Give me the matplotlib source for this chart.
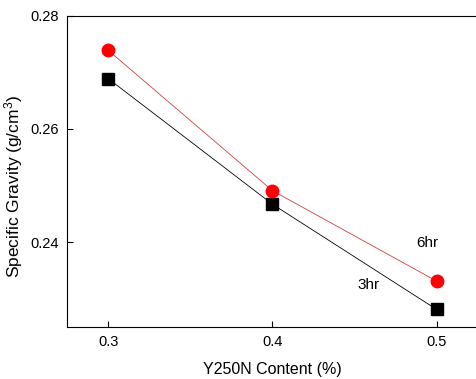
import matplotlib
matplotlib.use("Agg")
import matplotlib.pyplot as plt

content = [0.3, 0.4, 0.5]
sg_6hr = [0.2739, 0.2491, 0.2331]
sg_3hr = [0.2689, 0.2467, 0.2281]

plt.rcParams['font.family'] = ['Liberation Sans', 'DejaVu Sans']
plt.rcParams['mathtext.default'] = 'regular'

fig = plt.figure(figsize=(4.76, 3.79), dpi=100)
ax = fig.add_axes([0.1408, 0.1372, 0.8628, 0.8214])

ax.plot(content, sg_3hr, color='black', lw=0.6, marker='s', ms=8, zorder=3)
ax.plot(content, sg_6hr, color='#d04040', lw=0.6, marker='o', ms=9,
        markerfacecolor='red', markeredgecolor='red', zorder=3)

ax.text(0.4946, 0.2399, '6hr', fontsize=11, ha='center', va='center')
ax.text(0.4585, 0.2325, '3hr', fontsize=11, ha='center', va='center')

ax.set_xlim(0.275, 0.525)
ax.set_ylim(0.225, 0.28)
ax.set_xticks(content)
ax.set_yticks([0.24, 0.26, 0.28])
ax.tick_params(direction='in', length=4, labelsize=10.5, pad=6)
ax.set_xlabel('Y250N Content (%)', fontsize=11.5, labelpad=9)
ax.set_ylabel('Specific Gravity (g/cm$^3$)', fontsize=12.5)
ax.yaxis.set_label_coords(-0.102, 0.451)

fig.savefig('out.png', dpi=100)
